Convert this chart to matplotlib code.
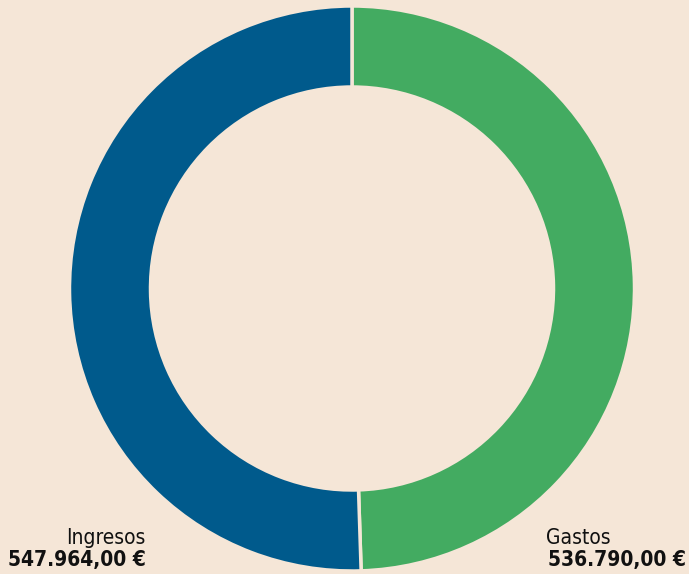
import matplotlib.pyplot as plt

# Data
labels = ['Gastos', 'Ingresos']
values = [536790.00, 547964.00]
colors = ['#43AB61', '#005A8C']
bg = '#F5E6D7'


def fmt(v):
    s = '{:,.2f}'.format(v)
    return s.replace(',', 'X').replace('.', ',').replace('X', '.') + ' €'


fig = plt.figure(figsize=(6.89, 5.74), dpi=100, facecolor=bg)
ax = fig.add_axes([0, 0, 1, 1])
ax.set_facecolor(bg)

ax.pie(values, colors=colors, startangle=90, counterclock=False,
       center=(352, 285.5), radius=282.5, frame=True,
       wedgeprops=dict(width=81, edgecolor=bg, linewidth=2.5))
ax.set_xlim(0, 689)
ax.set_ylim(0, 574)
ax.set_aspect('equal')
ax.axis('off')

fam = 'DejaVu Sans'
st = 'condensed'
# Ingresos label (left)
ax.text(146, 30, labels[1], ha='right', va='baseline', fontsize=15,
        family=fam, stretch=st, color='#111111')
ax.text(146, 8, fmt(values[1]), ha='right', va='baseline', fontsize=15,
        family=fam, stretch=st, fontweight='bold', color='#111111')
# Gastos label (right)
ax.text(546, 30, labels[0], ha='left', va='baseline', fontsize=15,
        family=fam, stretch=st, color='#111111')
ax.text(686, 8, fmt(values[0]), ha='right', va='baseline', fontsize=15,
        family=fam, stretch=st, fontweight='bold', color='#111111')

fig.savefig('out.png', dpi=100, facecolor=bg)
